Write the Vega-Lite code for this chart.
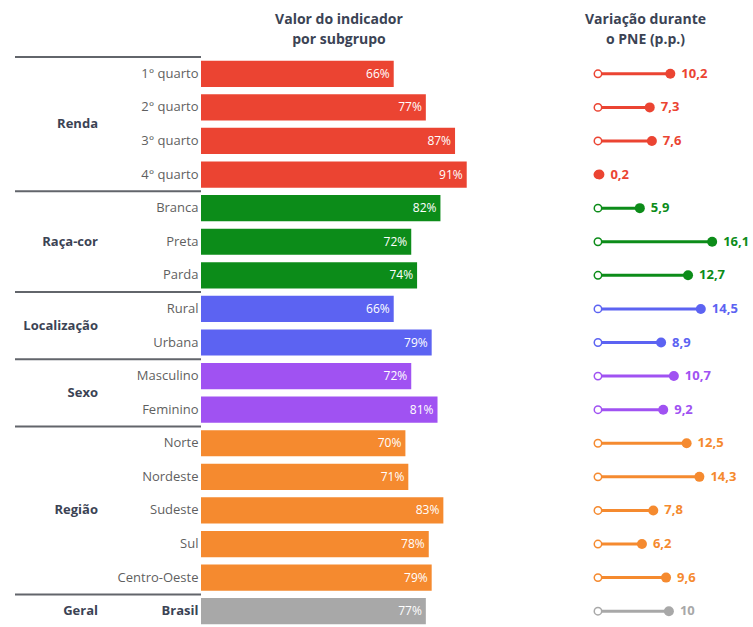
{
  "$schema": "https://vega.github.io/schema/vega-lite/v6.json",
  "padding": {"left": 14, "top": 13, "right": 0, "bottom": 0},
  "autosize": {"type": "pad"},
  "background": "white",
  "spacing": 0,
  "bounds": "flush",
  "data": {"values": [
    {"ordem": 1, "grupo": "Renda", "sub": "1° quarto", "valor": 66, "var": 10.2},
    {"ordem": 2, "grupo": "Renda", "sub": "2° quarto", "valor": 77, "var": 7.3},
    {"ordem": 3, "grupo": "Renda", "sub": "3° quarto", "valor": 87, "var": 7.6},
    {"ordem": 4, "grupo": "Renda", "sub": "4° quarto", "valor": 91, "var": 0.2},
    {"ordem": 5, "grupo": "Raça-cor", "sub": "Branca", "valor": 82, "var": 5.9},
    {"ordem": 6, "grupo": "Raça-cor", "sub": "Preta", "valor": 72, "var": 16.1},
    {"ordem": 7, "grupo": "Raça-cor", "sub": "Parda", "valor": 74, "var": 12.7},
    {"ordem": 8, "grupo": "Localização", "sub": "Rural", "valor": 66, "var": 14.5},
    {"ordem": 9, "grupo": "Localização", "sub": "Urbana", "valor": 79, "var": 8.9},
    {"ordem": 10, "grupo": "Sexo", "sub": "Masculino", "valor": 72, "var": 10.7},
    {"ordem": 11, "grupo": "Sexo", "sub": "Feminino", "valor": 81, "var": 9.2},
    {"ordem": 12, "grupo": "Região", "sub": "Norte", "valor": 70, "var": 12.5},
    {"ordem": 13, "grupo": "Região", "sub": "Nordeste", "valor": 71, "var": 14.3},
    {"ordem": 14, "grupo": "Região", "sub": "Sudeste", "valor": 83, "var": 7.8},
    {"ordem": 15, "grupo": "Região", "sub": "Sul", "valor": 78, "var": 6.2},
    {"ordem": 16, "grupo": "Região", "sub": "Centro-Oeste", "valor": 79, "var": 9.6},
    {"ordem": 17, "grupo": "Geral", "sub": "Brasil", "valor": 77, "var": 10}
  ]},
  "hconcat": [
    {
      "width": 186,
      "height": 571,
      "transform": [
        {"window": [{"op": "row_number", "as": "rn"}], "sort": [{"field": "ordem"}], "groupby": ["grupo"]},
        {"joinaggregate": [{"op": "count", "as": "n"}], "groupby": ["grupo"]}
      ],
      "layer": [
        {
          "transform": [{"filter": "datum.rn == 1"}],
          "mark": {"type": "rule", "color": "#62656b", "strokeWidth": 2},
          "encoding": {
            "y": {"field": "sub", "type": "nominal", "bandPosition": 0,
              "scale": {"domain": ["1° quarto","2° quarto","3° quarto","4° quarto","Branca","Preta","Parda","Rural","Urbana","Masculino","Feminino","Norte","Nordeste","Sudeste","Sul","Centro-Oeste","Brasil"], "paddingInner": 0, "paddingOuter": 0},
              "axis": null}
          }
        },
        {
          "transform": [{"filter": "datum.n % 2 == 1 && datum.rn == (datum.n + 1) / 2"}],
          "mark": {"type": "text", "align": "right", "baseline": "middle", "dx": -10, "fontSize": 13, "fontWeight": "bold", "font": "Open Sans", "color": "#3b4354"},
          "encoding": {
            "y": {"field": "sub", "type": "nominal", "bandPosition": 0.5},
            "text": {"field": "grupo"}
          }
        },
        {
          "transform": [{"filter": "datum.n % 2 == 0 && datum.rn == datum.n / 2"}],
          "mark": {"type": "text", "align": "right", "baseline": "middle", "dx": -10, "fontSize": 13, "fontWeight": "bold", "font": "Open Sans", "color": "#3b4354"},
          "encoding": {
            "y": {"field": "sub", "type": "nominal", "bandPosition": 1},
            "text": {"field": "grupo"}
          }
        }
      ]
    },
    {
      "width": 292,
      "height": 571,
      "title": {"text": ["Valor do indicador", "por subgrupo"], "fontSize": 14, "fontWeight": "bold", "font": "Open Sans", "color": "#3b4354", "lineHeight": 20, "offset": 10, "dx": -8, "anchor": "middle"},
      "transform": [{"calculate": "datum.valor + '%'", "as": "rotulo"}],
      "encoding": {
        "y": {"field": "sub", "type": "nominal", "sort": {"field": "ordem"},
          "scale": {"paddingInner": 0.22, "paddingOuter": 0.11},
          "axis": {"title": null, "domain": false, "ticks": false, "labelPadding": 3, "labelFontSize": 13, "labelFont": "Open Sans",
            "labelColor": {"expr": "datum.label == 'Brasil' ? '#3b4354' : '#5f5f5f'"},
            "labelFontWeight": {"expr": "datum.label == 'Brasil' ? 'bold' : 'normal'"}}}
      },
      "layer": [
        {
          "mark": {"type": "bar"},
          "encoding": {
            "x": {"field": "valor", "type": "quantitative", "scale": {"domain": [0, 100], "nice": false}, "axis": null},
            "color": {"field": "grupo", "type": "nominal", "legend": null,
              "scale": {"domain": ["Renda","Raça-cor","Localização","Sexo","Região","Geral"], "range": ["#eb4432","#0c8c19","#5c63f2","#a052f2","#f58a2f","#a8a8a8"]}}
          }
        },
        {
          "mark": {"type": "text", "align": "right", "baseline": "middle", "dx": -4, "fontSize": 12, "font": "Open Sans", "color": "white"},
          "encoding": {
            "x": {"field": "valor", "type": "quantitative"},
            "text": {"field": "rotulo"}
          }
        }
      ]
    },
    {
      "width": 261,
      "height": 571,
      "title": {"text": ["Variação durante", "o PNE (p.p.)"], "fontSize": 14, "fontWeight": "bold", "font": "Open Sans", "color": "#3b4354", "lineHeight": 20, "offset": 10, "dx": 22, "anchor": "middle"},
      "transform": [{"calculate": "replace(toString(datum.var), '.', ',')", "as": "rotulo"}],
      "encoding": {
        "y": {"field": "sub", "type": "nominal", "sort": {"field": "ordem"},
          "scale": {"paddingInner": 0.22, "paddingOuter": 0.11}, "axis": null}
      },
      "layer": [
        {
          "mark": {"type": "rule", "strokeWidth": 3},
          "encoding": {
            "x": {"field": "var", "type": "quantitative", "scale": {"domain": [-14.8, 22], "nice": false, "zero": false}, "axis": null},
            "x2": {"datum": 0},
            "color": {"field": "grupo", "type": "nominal", "legend": null,
              "scale": {"domain": ["Renda","Raça-cor","Localização","Sexo","Região","Geral"], "range": ["#eb4432","#0c8c19","#5c63f2","#a052f2","#f58a2f","#a8a8a8"]}}
          }
        },
        {
          "mark": {"type": "circle", "fill": "white", "fillOpacity": 1, "strokeWidth": 1.5, "size": 55, "opacity": 1},
          "encoding": {
            "x": {"datum": 0, "type": "quantitative"},
            "stroke": {"field": "grupo", "type": "nominal", "legend": null,
              "scale": {"domain": ["Renda","Raça-cor","Localização","Sexo","Região","Geral"], "range": ["#eb4432","#0c8c19","#5c63f2","#a052f2","#f58a2f","#a8a8a8"]}}
          }
        },
        {
          "mark": {"type": "circle", "size": 100, "opacity": 1},
          "encoding": {
            "x": {"field": "var", "type": "quantitative"},
            "color": {"field": "grupo", "type": "nominal", "legend": null}
          }
        },
        {
          "mark": {"type": "text", "align": "left", "baseline": "middle", "dx": 11, "fontSize": 13, "fontWeight": "bold", "font": "Open Sans"},
          "encoding": {
            "x": {"field": "var", "type": "quantitative"},
            "text": {"field": "rotulo"},
            "color": {"field": "grupo", "type": "nominal", "legend": null}
          }
        }
      ]
    }
  ],
  "config": {
    "view": {"stroke": null},
    "font": "Open Sans"
  }
}
